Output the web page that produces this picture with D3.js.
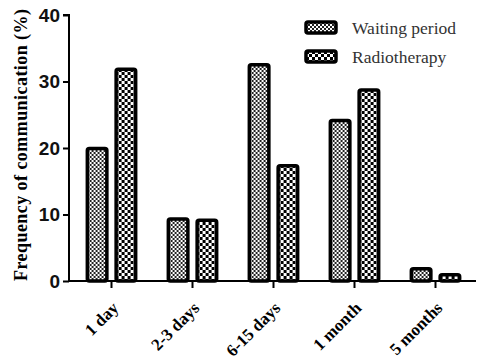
<!DOCTYPE html>
<html>
<head>
<meta charset="utf-8">
<script src="https://cdn.jsdelivr.net/npm/d3@7"></script>
<style>
  body { margin: 0; background: #fff; }
  svg { display: block; }
</style>
</head>
<body>
<svg id="chart" width="478" height="361"></svg>
<script>
// data
const categories = ["1 day", "2-3 days", "6-15 days", "1 month", "5 months"];
const seriesNames = ["Waiting period", "Radiotherapy"];
const waiting = [20.2, 9.6, 32.8, 24.4, 2.1];
const radio = [32.1, 9.4, 17.6, 29.0, 1.2];
const yTicks = [0, 10, 20, 30, 40];

const svg = d3.select("#chart");
const margin = { left: 69, top: 15, right: 3, bottom: 80 };

// patterns
const defs = svg.append("defs");
const fine = defs.append("pattern").attr("id", "fine")
  .attr("patternUnits", "userSpaceOnUse").attr("width", 4).attr("height", 4);
fine.append("rect").attr("width", 4).attr("height", 4).attr("fill", "#fff");
fine.append("rect").attr("width", 2).attr("height", 2).attr("fill", "#222");
fine.append("rect").attr("x", 2).attr("y", 2).attr("width", 2).attr("height", 2).attr("fill", "#222");

const coarse = defs.append("pattern").attr("id", "coarse")
  .attr("patternUnits", "userSpaceOnUse").attr("width", 6).attr("height", 6);
coarse.append("rect").attr("width", 6).attr("height", 6).attr("fill", "#fff");
coarse.append("rect").attr("width", 3).attr("height", 3).attr("fill", "#000");
coarse.append("rect").attr("x", 3).attr("y", 3).attr("width", 3).attr("height", 3).attr("fill", "#000");

const fills = ["url(#fine)", "url(#coarse)"];

const y = d3.scaleLinear().domain([0, 40]).range([281, 15]);
const x = d3.scaleBand().domain(categories).range([71, 476]).paddingInner(0.36).paddingOuter(0.18);
const x1 = d3.scaleBand().domain(seriesNames).range([0, x.bandwidth()]).paddingInner(0.2);

// bars
const groups = svg.append("g").selectAll("g")
  .data(categories.map((c, i) => ({ c, vals: [waiting[i], radio[i]] })))
  .join("g")
  .attr("transform", d => `translate(${x(d.c)},0)`);

groups.selectAll("rect")
  .data(d => d.vals.map((v, j) => ({ v, j })))
  .join("rect")
  .attr("x", d => x1(seriesNames[d.j]) + 1.75)
  .attr("width", x1.bandwidth() - 3.5)
  .attr("y", d => y(d.v) + 1.75)
  .attr("height", d => Math.max(0, y(0) - y(d.v) - 1.75))
  .attr("rx", 2)
  .attr("fill", d => fills[d.j])
  .attr("stroke", "#000")
  .attr("stroke-width", 3.5);

// y axis
const yAxis = svg.append("g")
  .attr("transform", `translate(${margin.left},0)`)
  .call(d3.axisLeft(y).tickValues(yTicks).tickSize(6).tickPadding(3));
yAxis.select(".domain").attr("stroke-width", 2).attr("d", "M-6,15H0V281");
yAxis.selectAll(".tick line").attr("stroke-width", 2);
yAxis.selectAll(".tick text")
  .style("font-family", "Liberation Sans, Arial, sans-serif")
  .style("font-weight", "bold").style("font-size", "19px").attr("fill", "#111");

// x axis
const xAxis = svg.append("g")
  .attr("transform", `translate(0,281)`)
  .call(d3.axisBottom(x).tickSize(7).tickPadding(4));
xAxis.select(".domain").attr("stroke-width", 2).attr("d", `M${margin.left},0H476`);
xAxis.selectAll(".tick line").attr("stroke-width", 2);
xAxis.selectAll(".tick text")
  .style("font-family", "Liberation Serif, Times New Roman, serif")
  .style("font-weight", "bold").style("font-size", "17px").attr("fill", "#000")
  .attr("text-anchor", "end")
  .attr("x", 0).attr("y", 0).attr("dy", "0")
  .attr("transform", "translate(8,28) rotate(-45)");

// y title
svg.append("text")
  .attr("transform", "translate(27,145) rotate(-90)")
  .attr("text-anchor", "middle")
  .style("font-family", "Liberation Serif, Times New Roman, serif")
  .style("font-weight", "bold").style("font-size", "18px")
  .attr("textLength", 272).attr("lengthAdjust", "spacing")
  .text("Frequency of communication (%)");

// legend
const legend = svg.append("g").selectAll("g")
  .data(seriesNames)
  .join("g")
  .attr("transform", (d, i) => `translate(306,${22 + i * 29})`);
legend.append("rect")
  .attr("width", 30).attr("height", 11).attr("rx", 2)
  .attr("fill", (d, i) => fills[i]).attr("stroke", "#000").attr("stroke-width", 3.5);
legend.append("text")
  .attr("x", 46).attr("y", 12)
  .style("font-family", "Liberation Serif, Times New Roman, serif")
  .style("font-size", "17.5px").attr("fill", "#333")
  .text(d => d);
</script>
</body>
</html>
